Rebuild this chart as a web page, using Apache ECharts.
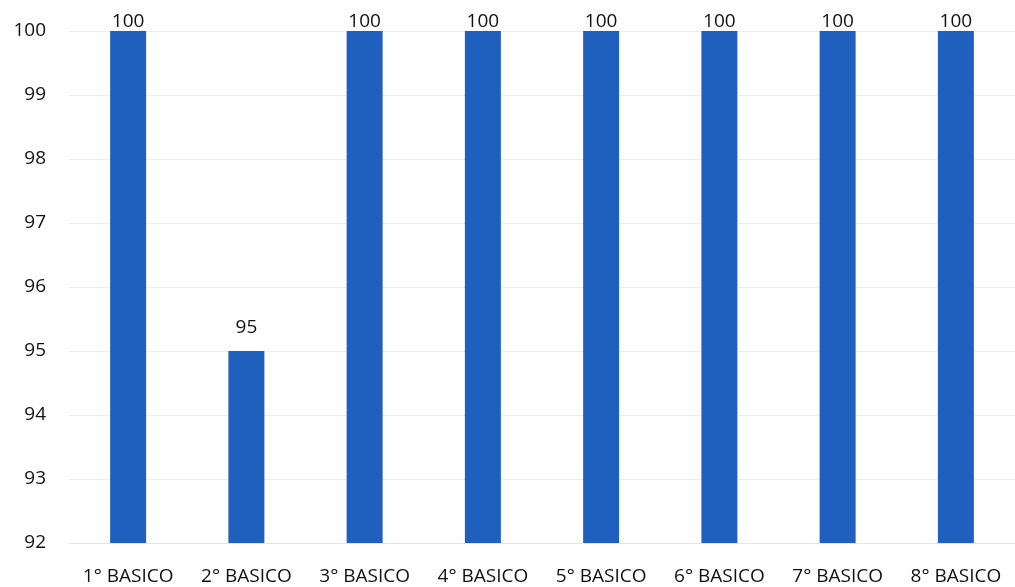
<!DOCTYPE html>
<html>
<head>
<meta charset="utf-8">
<script src="https://cdn.jsdelivr.net/npm/echarts@6/dist/echarts.min.js"></script>
<style>
  html, body { margin: 0; padding: 0; background: #fff; }
  #chart { width: 1015px; height: 587px; }
</style>
</head>
<body>
<div id="chart"></div>
<script>
const categories = ['1° BASICO', '2° BASICO', '3° BASICO', '4° BASICO', '5° BASICO', '6° BASICO', '7° BASICO', '8° BASICO'];
const values = [100, 95, 100, 100, 100, 100, 100, 100];

const chart = echarts.init(document.getElementById('chart'));
chart.setOption({
    backgroundColor: '#ffffff',
    animation: false,
    grid: { left: 69, top: 31, width: 950, height: 512 },
    xAxis: {
        type: 'category',
        data: categories,
        axisLine: { show: true, lineStyle: { color: '#e4e4e4' } },
        axisTick: { show: false },
        axisLabel: { color: '#111', fontSize: 19, fontFamily: 'Open Sans', margin: 24 }
    },
    yAxis: {
        type: 'value',
        min: 92,
        max: 100,
        interval: 1,
        axisLine: { show: false },
        axisTick: { show: false },
        splitLine: { lineStyle: { color: '#ececec' } },
        axisLabel: { color: '#111', fontSize: 19, fontFamily: 'Open Sans', margin: 23 }
    },
    series: [{
        type: 'bar',
        // labels at the top of the plot sit tight on the bar
        data: values.map(v => ({ value: v, label: { distance: v >= 100 ? 0 : 14 } })),
        barWidth: 36,
        itemStyle: { color: '#1f5fbd' },
        label: {
            show: true,
            position: 'top',
            color: '#111',
            fontSize: 19,
            fontFamily: 'Open Sans'
        }
    }]
});
</script>
</body>
</html>
